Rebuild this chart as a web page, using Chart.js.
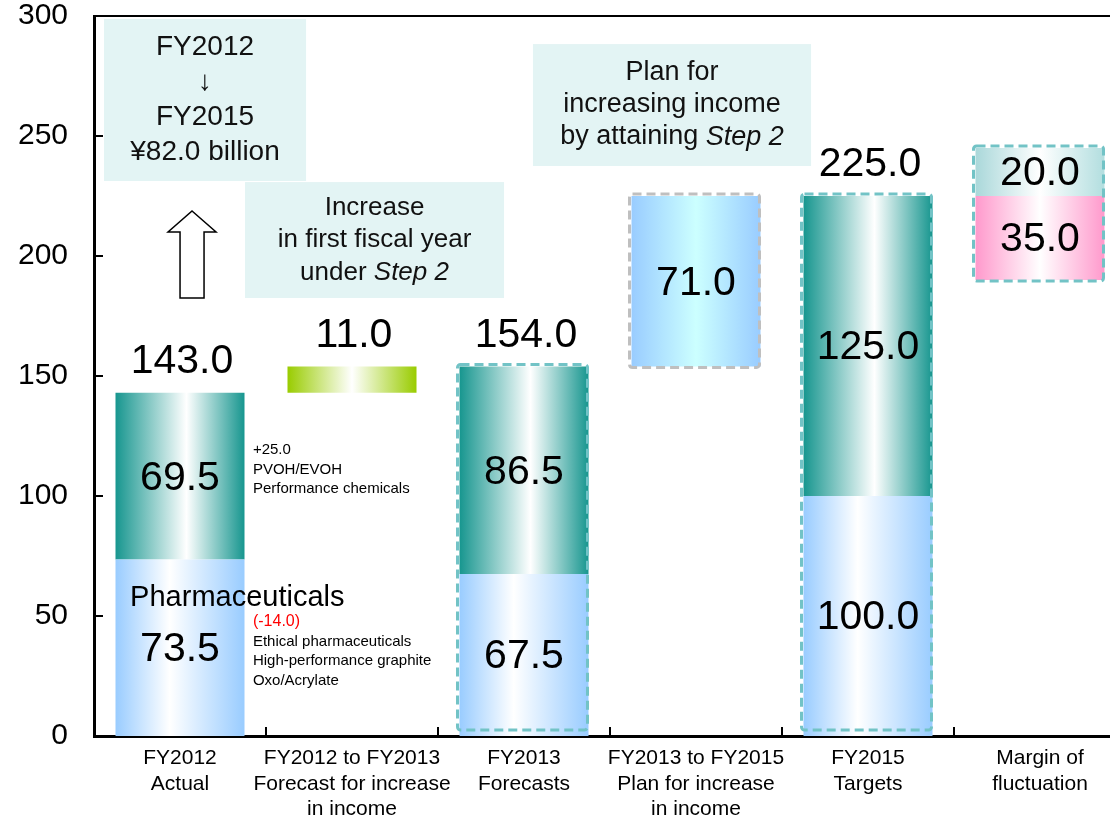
<!DOCTYPE html>
<html>
<head>
<meta charset="utf-8">
<script src="https://cdn.jsdelivr.net/npm/chart.js@4.4.1/dist/chart.umd.min.js"></script>
<style>
  html, body { margin: 0; padding: 0; background: #fff; overflow: hidden; }
  #wrap { width: 1130px; height: 815px; }
</style>
</head>
<body>
<div id="wrap"><canvas id="chart" width="1130" height="815"></canvas></div>
<script>
// categories along the x axis
const categories = [
  ['FY2012', 'Actual'],
  ['FY2012 to FY2013', 'Forecast for increase', 'in income'],
  ['FY2013', 'Forecasts'],
  ['FY2013 to FY2015', 'Plan for increase', 'in income'],
  ['FY2015', 'Targets'],
  ['Margin of', 'fluctuation']
];

// floating segments [from, to] per category
const lowerSeg    = [[0, 73.5], null, [0, 67.5], null, [0, 100], null];
const upperSeg    = [[73.5, 143], null, [67.5, 154], null, [100, 225], null];
const increaseSeg = [null, [143, 154], null, null, null, null];
const planSeg     = [null, null, null, [154, 225], null, null];
const marginDown  = [null, null, null, null, null, [190, 225]];
const marginUp    = [null, null, null, null, null, [225, 245]];

// labels written above the bars
const topLabels = [143.0, 11.0, 154.0, null, 225.0, null];
// which categories get a dashed frame
const outlined = [false, false, true, true, true, true];

const yTicks = [0, 50, 100, 150, 200, 250, 300];

const noteUpper = ['+25.0', 'PVOH/EVOH', 'Performance chemicals'];
const noteLower = ['(-14.0)', 'Ethical pharmaceuticals', 'High-performance graphite', 'Oxo/Acrylate'];

const FONT = '"Liberation Sans", Arial, sans-serif';
const BAR_PCT = 0.75;

function barGradient(stops) {
  return (c) => {
    const chart = c.chart;
    const x = chart.scales.x;
    if (!chart.chartArea || !x || !x.width) return stops[0][1];
    const mid = x.getPixelForValue(c.dataIndex);
    const half = (x.width / categories.length) * BAR_PCT / 2;
    const g = chart.ctx.createLinearGradient(mid - half, 0, mid + half, 0);
    stops.forEach(([o, col]) => g.addColorStop(o, col));
    return g;
  };
}

const blueFill  = barGradient([[0, '#99ccff'], [0.42, '#ffffff'], [1, '#99ccff']]);
const tealFill  = barGradient([[0, '#17968f'], [0.55, '#ffffff'], [1, '#17968f']]);
const greenFill = barGradient([[0, '#99cc00'], [0.5, '#ffffff'], [1, '#99cc00']]);
const planFill  = barGradient([[0, '#99ccff'], [0.5, '#ccffff'], [1, '#99ccff']]);
const pinkFill  = barGradient([[0, '#ff99cc'], [0.5, '#ffffff'], [1, '#ff99cc']]);
const paleFill  = barGradient([[0, '#aad8da'], [0.5, '#ffffff'], [1, '#b2dedf']]);

function drawMixed(ctx, parts, cx, cy, size) {
  let total = 0;
  parts.forEach(p => {
    ctx.font = (p[1] ? 'italic ' : '') + size + 'px ' + FONT;
    total += ctx.measureText(p[0]).width;
  });
  let x = cx - total / 2;
  ctx.textAlign = 'left';
  parts.forEach(p => {
    ctx.font = (p[1] ? 'italic ' : '') + size + 'px ' + FONT;
    ctx.fillText(p[0], x, cy);
    x += ctx.measureText(p[0]).width;
  });
}

// text boxes, placed in axis units
const boxes = [
  { x0: -0.442, x1: 0.733, y0: 298.75, y1: 231.25, size: 28, gap: 35,
    lines: [[['FY2012']], [['\u2193']], [['FY2015']], [['\u00a582.0 billion']]] },
  { x0: 0.378, x1: 1.884, y0: 230.8, y1: 182.5, size: 26, gap: 32.5,
    lines: [[['Increase']], [['in first fiscal year']], [['under '], ['Step 2', true]]] },
  { x0: 2.052, x1: 3.669, y0: 288.3, y1: 237.5, size: 27, gap: 32,
    lines: [[['Plan for']], [['increasing income']], [['by attaining '], ['Step 2', true]]] }
];

const annotations = {
  id: 'annotations',
  beforeDatasetsDraw(chart) {
    const { ctx, scales: { x, y } } = chart;
    ctx.save();
    ctx.fillStyle = '#e3f4f4';
    boxes.forEach(b => {
      const l = x.getPixelForValue(b.x0), r = x.getPixelForValue(b.x1);
      const t = y.getPixelForValue(b.y0), btm = y.getPixelForValue(b.y1);
      ctx.fillRect(l, t, r - l, btm - t);
    });
    // hollow arrow
    const ax = x.getPixelForValue(0.07);
    const tip = y.getPixelForValue(218.75), neck = y.getPixelForValue(210), foot = y.getPixelForValue(182.5);
    ctx.beginPath();
    ctx.moveTo(ax, tip);
    ctx.lineTo(ax + 24, neck);
    ctx.lineTo(ax + 12, neck);
    ctx.lineTo(ax + 12, foot);
    ctx.lineTo(ax - 12, foot);
    ctx.lineTo(ax - 12, neck);
    ctx.lineTo(ax - 24, neck);
    ctx.closePath();
    ctx.fillStyle = '#fff';
    ctx.fill();
    ctx.strokeStyle = '#000';
    ctx.lineWidth = 1.5;
    ctx.stroke();
    ctx.restore();
  },
  afterDatasetsDraw(chart) {
    const { ctx, scales: { x, y }, chartArea } = chart;
    ctx.save();

    // dashed frames around the bars
    ctx.lineWidth = 3;
    ctx.setLineDash([9, 5]);
    const half = (x.width / categories.length) * BAR_PCT / 2;
    outlined.forEach((on, i) => {
      if (!on) return;
      let lo = Infinity, hi = -Infinity;
      chart.data.datasets.forEach(ds => {
        const v = ds.data[i];
        if (v) { lo = Math.min(lo, v[0]); hi = Math.max(hi, v[1]); }
      });
      const c = x.getPixelForValue(i);
      const top = y.getPixelForValue(hi) - 2;
      let bottom = y.getPixelForValue(lo) + 1;
      if (lo === 0) bottom = chartArea.bottom - 6;
      ctx.strokeStyle = i === 3 ? '#bfbfbf' : '#72c3c6';
      ctx.beginPath();
      ctx.roundRect(c - half - 2, top, half * 2 + 1, bottom - top, 3);
      ctx.stroke();
    });
    ctx.setLineDash([]);

    // values inside the segments
    ctx.fillStyle = '#000';
    ctx.textAlign = 'center';
    ctx.textBaseline = 'middle';
    ctx.font = '41px ' + FONT;
    chart.data.datasets.forEach((ds, di) => {
      if (!ds.inside) return;
      chart.getDatasetMeta(di).data.forEach((bar, i) => {
        const v = ds.data[i];
        if (!v) return;
        ctx.fillText((v[1] - v[0]).toFixed(1), bar.x, (bar.y + bar.base) / 2 + 2);
      });
    });

    // values above the bars
    topLabels.forEach((t, i) => {
      if (t == null) return;
      let hi = -Infinity;
      chart.data.datasets.forEach(ds => { const v = ds.data[i]; if (v) hi = Math.max(hi, v[1]); });
      ctx.fillText(t.toFixed(1), x.getPixelForValue(i) + 2, y.getPixelForValue(hi) - 31);
    });

    // Pharmaceuticals label
    ctx.textAlign = 'left';
    ctx.font = '29px ' + FONT;
    ctx.fillText('Pharmaceuticals', x.getPixelForValue(-0.29), y.getPixelForValue(57.5));

    // side notes
    ctx.font = '15px ' + FONT;
    const nx = x.getPixelForValue(0.424);
    let ny = y.getPixelForValue(119.2);
    noteUpper.forEach((s, k) => ctx.fillText(s, nx, ny + k * 19.5));
    ny = y.getPixelForValue(47.5);
    noteLower.forEach((s, k) => {
      ctx.font = (k === 0 ? '16px ' : '15px ') + FONT;
      ctx.fillStyle = k === 0 ? '#ff0000' : '#000';
      ctx.fillText(s, nx, ny + k * 19.5);
    });

    // box texts
    ctx.fillStyle = '#111';
    boxes.forEach(b => {
      const cx = (x.getPixelForValue(b.x0) + x.getPixelForValue(b.x1)) / 2;
      const cy = (y.getPixelForValue(b.y0) + y.getPixelForValue(b.y1)) / 2;
      const n = b.lines.length;
      b.lines.forEach((parts, k) => {
        drawMixed(ctx, parts, cx, cy + (k - (n - 1) / 2) * b.gap, b.size);
      });
    });
    ctx.restore();
  },
  afterDraw(chart) {
    const { ctx, scales: { x, y }, chartArea } = chart;
    ctx.save();
    ctx.strokeStyle = '#000';
    ctx.lineWidth = 2;
    ctx.beginPath();
    // inward tick marks
    yTicks.forEach(v => {
      const py = Math.round(y.getPixelForValue(v));
      ctx.moveTo(chartArea.left, py);
      ctx.lineTo(chartArea.left + 9, py);
    });
    for (let i = 0; i < categories.length; i++) {
      const px = Math.round((x.getPixelForValue(i) + x.getPixelForValue(i + 1)) / 2);
      ctx.moveTo(px, chartArea.bottom);
      ctx.lineTo(px, chartArea.bottom - 9);
    }
    // top frame line
    ctx.moveTo(chartArea.left, chartArea.top);
    ctx.lineTo(chartArea.right + 10, chartArea.top);
    ctx.stroke();
    ctx.restore();
  }
};

function seg(label, data, fill, inside) {
  return { label, data, backgroundColor: fill, borderWidth: 0, inside,
           barPercentage: BAR_PCT, categoryPercentage: 1 };
}

new Chart(document.getElementById('chart'), {
  type: 'bar',
  data: {
    labels: categories,
    datasets: [
      seg('Lower', lowerSeg, blueFill, true),
      seg('Upper', upperSeg, tealFill, true),
      seg('Increase', increaseSeg, greenFill, false),
      seg('Plan', planSeg, planFill, true),
      seg('Margin down', marginDown, pinkFill, true),
      seg('Margin up', marginUp, paleFill, true)
    ]
  },
  options: {
    responsive: false,
    animation: false,
    layout: { padding: { top: 16, right: 4, left: 0, bottom: 0 } },
    plugins: { legend: { display: false }, tooltip: { enabled: false } },
    scales: {
      x: {
        stacked: true,
        grid: { display: false },
        border: { display: true, color: '#000', width: 3 },
        ticks: { color: '#000', font: { family: FONT, size: 21 }, padding: 2, maxRotation: 0, autoSkip: false },
        afterFit(s) { s.height = 79; s.paddingLeft = 0; s.paddingRight = 0; }
      },
      y: {
        stacked: false,
        min: 0, max: 300,
        grid: { display: false },
        border: { display: true, color: '#000', width: 3 },
        afterBuildTicks(s) { s.ticks = yTicks.map(v => ({ value: v })); },
        ticks: { color: '#000', font: { family: FONT, size: 30 }, padding: 18 },
        afterFit(s) { s.width = 94; s.paddingTop = 0; s.paddingBottom = 0; }
      }
    }
  },
  plugins: [annotations]
});
</script>
</body>
</html>
